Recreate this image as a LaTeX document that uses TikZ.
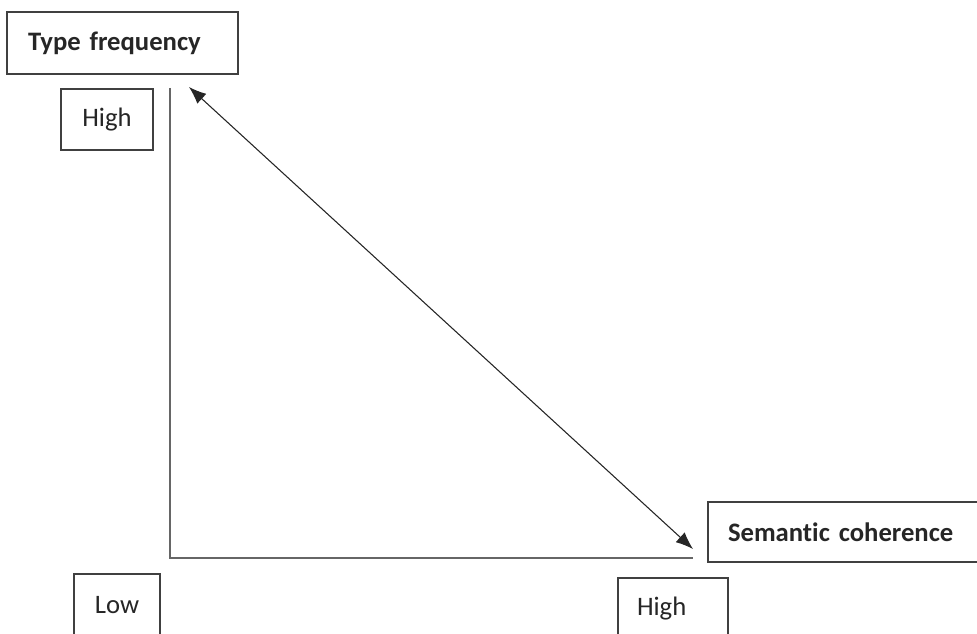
\documentclass[tikz,border=0pt]{standalone}
\usepackage{fontspec}
\setmainfont{Carlito}[Ligatures=NoCommon]
\usepackage{tikz}
\usetikzlibrary{arrows.meta}
\newdimen\pxu
\pxu=0.75pt

\begin{document}
\begin{tikzpicture}[x=0.75pt,y=-0.75pt,
lbl/.style={draw=black!75, line width=1.1pt, inner sep=0pt, outer sep=0pt, anchor=north west, font=\fontsize{20}{24}\selectfont, text=black!85},
title/.style={lbl, line width=1.5pt, font=\fontsize{20}{24}\selectfont\bfseries},
axis/.style={draw=black!60, line width=1.1pt},
link/.style={draw=black!85, line width=0.8pt, {Latex[length=13pt,width=10pt]}-{Latex[length=13pt,width=10pt]}}]
\useasboundingbox (0,0) rectangle (977,634);
\clip (0,0) rectangle (977,634);
% axes
\coordinate (o) at (170,558);
\coordinate (ytop) at (170,88);
\coordinate (xend) at (693,558);
\draw[axis] (ytop) -- (o) -- (xend);
% labels
\node[title, minimum width=231\pxu, minimum height=62\pxu, text width=189\pxu, inner xsep=21\pxu, align=left] (tf) at (7,12) {Type frequency};
\node[lbl, minimum width=92\pxu, minimum height=61\pxu] (yhigh) at (61,89) {High};
\node[lbl, minimum width=86\pxu, minimum height=62\pxu] (ylow) at (74,574) {Low};
\node[lbl, minimum width=110\pxu, minimum height=62\pxu, text width=72\pxu, inner xsep=19\pxu, align=left] (xhigh) at (618,578) {High};
\node[title, minimum width=290\pxu, minimum height=60\pxu, text width=250\pxu, inner xsep=20\pxu, align=left] (sc) at (708,502) {Semantic coherence};
% trade-off
\coordinate (a1) at (189,87);
\coordinate (a2) at (693,549);
\draw[link] (a1) -- (a2);
\end{tikzpicture}
\end{document}
